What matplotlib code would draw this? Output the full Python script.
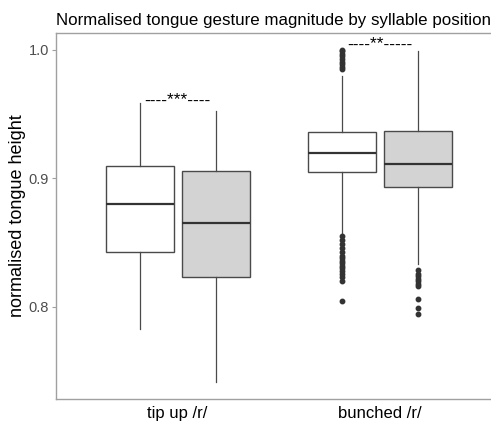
import numpy as np
import matplotlib.pyplot as plt

plt.rcParams['font.family'] = ['Liberation Sans', 'DejaVu Sans']

# Data
groups = ['tip up /r/', 'bunched /r/']
fills = ['white', '#D3D3D3']

# box stats per group: (first box, second box)
q1 = [[0.843, 0.8233], [0.9047, 0.8935]]
med = [[0.8805, 0.865], [0.9198, 0.9112]]
q3 = [[0.9099, 0.9055], [0.9363, 0.937]]
whislo = [[0.783, 0.7416], [0.8567, 0.8334]]
whishi = [[0.959, 0.9527], [0.980, 0.9995]]
fliers = [
    [[], []],
    [[0.985, 0.987, 0.989, 0.991, 0.993, 0.995, 0.997, 0.999, 1.0,
      0.855, 0.852, 0.849, 0.846, 0.843, 0.840, 0.838, 0.836, 0.834,
      0.832, 0.830, 0.828, 0.826, 0.823, 0.820, 0.8044],
     [0.829, 0.826, 0.824, 0.822, 0.820, 0.818, 0.816, 0.8065, 0.799, 0.7945]],
]
sig_labels = ['----***----', '----**-----']
sig_y = [0.961, 1.004]

fig = plt.figure(figsize=(4.91, 4.21), dpi=100)
ax = fig.add_axes([0.114, 0.0523, 1.022 - 0.114, 0.9216 - 0.0523])

dodge = 0.1875
width = 0.335
edge = '#333333'
for g in range(len(groups)):
    for b in range(2):
        stats = [dict(med=med[g][b], q1=q1[g][b], q3=q3[g][b],
                      whislo=whislo[g][b], whishi=whishi[g][b],
                      fliers=fliers[g][b])]
        pos = g + 1 + (-dodge if b == 0 else dodge)
        ax.bxp(stats, positions=[pos], widths=width, patch_artist=True,
               showcaps=False,
               boxprops=dict(facecolor=fills[b], edgecolor='#4a4a4a', linewidth=1.0),
               medianprops=dict(color=edge, linewidth=1.6),
               whiskerprops=dict(color='#4a4a4a', linewidth=0.9),
               flierprops=dict(marker='o', markerfacecolor=edge, markeredgecolor=edge,
                               markersize=3.2))
    ax.text(g + 1, sig_y[g], sig_labels[g], ha='center', va='center',
            fontsize=12.5, color='black')

ax.set_xlim(0.4, 2.6)
ax.set_ylim(0.7284, 1.0132)
ax.set_xticks([1, 2])
ax.set_xticklabels(groups, fontsize=12, color='black')
ax.set_yticks([0.8, 0.9, 1.0])
ax.set_yticklabels(['0.8', '0.9', '1.0'], fontsize=10.5, color='#4D4D4D')
ax.tick_params(axis='y', length=3, color='#A0A0A0', width=0.8, pad=2)
ax.tick_params(axis='x', length=0, pad=5)
for s in ax.spines.values():
    s.set_color('#A0A0A0')
    s.set_linewidth(1.0)
ax.set_ylabel('normalised tongue height', fontsize=13, labelpad=2)
ax.set_title('Normalised tongue gesture magnitude by syllable position',
             loc='left', fontsize=12.2, pad=6)

fig.savefig('out.png', dpi=100)
